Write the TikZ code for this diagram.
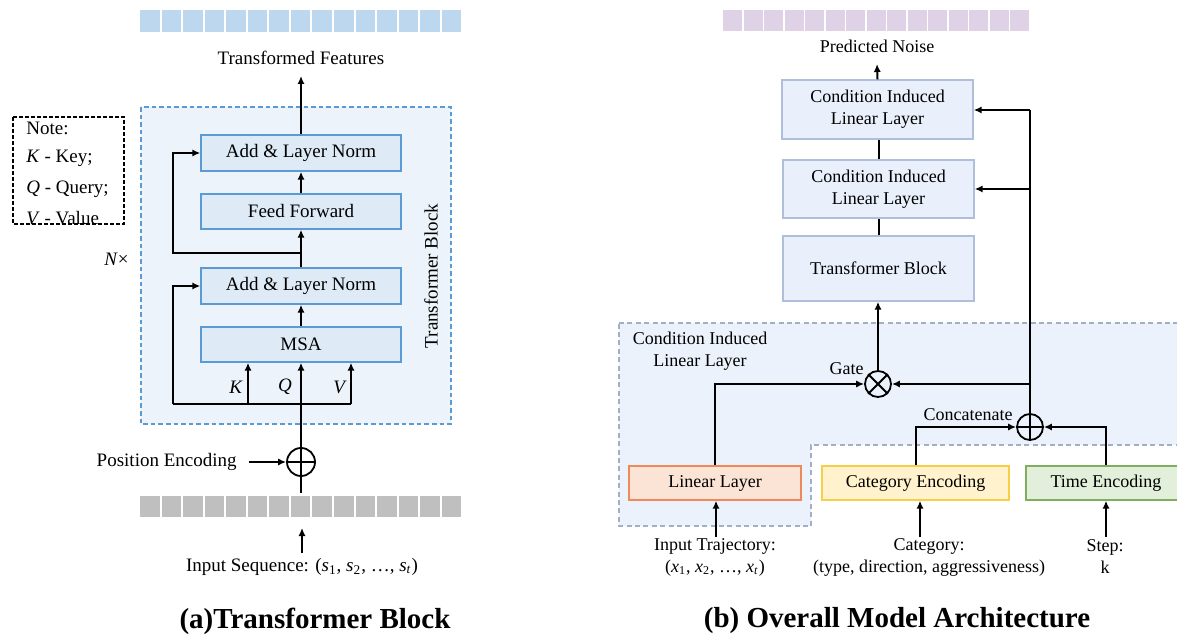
\documentclass[tikz,border=0pt]{standalone}
\usepackage{fontspec}
\setmainfont{Liberation Serif}
\usetikzlibrary{arrows.meta,calc}
\definecolor{sqblue}{HTML}{BDD7EE}
\definecolor{sqgray}{HTML}{BFBFBF}
\definecolor{sqpurple}{HTML}{DFD2E7}
\definecolor{tbfill}{HTML}{EDF3FA}
\definecolor{tbdash}{HTML}{5B9BD5}
\definecolor{boxfill}{HTML}{DEEAF6}
\definecolor{boxdraw}{HTML}{5B9BD5}
\definecolor{rboxfill}{HTML}{E9F0FB}
\definecolor{rboxdraw}{HTML}{AFBEDA}
\definecolor{regfill}{HTML}{EBF2FB}
\definecolor{regdash}{HTML}{A3AFC6}
\definecolor{llfill}{HTML}{FBE3D5}
\definecolor{lldraw}{HTML}{EE8A5A}
\definecolor{catfill}{HTML}{FFF2CC}
\definecolor{catdraw}{HTML}{F7CE46}
\definecolor{timefill}{HTML}{E2EFDA}
\definecolor{timedraw}{HTML}{7EAE5E}
\newcommand\myfl{\fontsize{9.5}{11}\selectfont}
\newcommand\myfr{\fontsize{9}{11}\selectfont}
\newcommand\mycap{\fontsize{14.5}{16}\selectfont\bfseries}
\newcommand\isub[2]{\textit{#1}\textsubscript{#2}}
\tikzset{
  lbox/.style={draw=boxdraw, fill=boxfill, line width=0.7pt, inner sep=0pt, font=\myfl, minimum width=100pt},
  rbox/.style={draw=rboxdraw, fill=rboxfill, line width=0.7pt, inner sep=0pt, font=\myfr, align=center, minimum width=95.5pt},
  llbox/.style={draw=lldraw, fill=llfill, line width=0.7pt, inner sep=0pt, font=\myfr, minimum height=17pt},
  catbox/.style={draw=catdraw, fill=catfill, line width=0.7pt, inner sep=0pt, font=\myfr, minimum height=17pt},
  timebox/.style={draw=timedraw, fill=timefill, line width=0.7pt, inner sep=0pt, font=\myfr, minimum height=17pt},
  ln/.style={line width=1pt, draw=black},
  arr/.style={ln, -{Latex[length=4pt,width=3.6pt]}},
  opc/.style={circle, draw=black, line width=0.9pt, inner sep=0pt, fill=none},
  ltxt/.style={font=\myfl, inner sep=0pt},
  rtxt/.style={font=\myfr, inner sep=0pt, align=center},
  captxt/.style={font=\mycap, inner sep=0pt},
}
\begin{document}
\begin{tikzpicture}[x=0.5pt,y=-0.5pt]
\useasboundingbox (0,0) rectangle (1177,640);
\clip (0,0) rectangle (1177,640);
% ---------------- (a) Transformer block ----------------
\foreach \i in {0,...,14}
  \fill[sqblue] (140+21.55*\i,10) rectangle ++(19.6,22);
\foreach \i in {0,...,14}
  \fill[sqgray] (140+21.55*\i,496) rectangle ++(19.6,21);
\draw[tbdash, fill=tbfill, line width=0.75pt, dash pattern=on 2.3pt off 1.5pt] (141,107) rectangle (451,424);
\node[ltxt] (tf) at (301,58) {Transformed Features};
\node[lbox, minimum height=18pt] (an1) at (301,153) {Add \& Layer Norm};
\node[lbox, minimum height=17.5pt] (ff) at (301,211.5) {Feed Forward};
\node[lbox, minimum height=18pt] (an2) at (301,286) {Add \& Layer Norm};
\node[lbox, minimum height=17.5pt] (msa) at (301,344.5) {MSA};
\node[ltxt, rotate=90] (tbl) at (431,276) {Transformer Block};
\node[ltxt, anchor=east] (nx) at (129,259) {\textit{N}×};
\node[opc, minimum size=14pt] (pe) at (301,462) {};
\draw[line width=0.9pt] (pe.north) -- (pe.south) (pe.west) -- (pe.east);
\node[ltxt, anchor=east] (pet) at (237,462) {Position Encoding};
\node[ltxt] (ins) at (302,567) {Input Sequence: (\isub{s}{1}, \isub{s}{2}, \ldots, \isub{s}{\textit{t}})};
\node[captxt] (capa) at (315,621) {(a)Transformer Block};
\node[ltxt] (kl) at (236,387) {\textit{K}};
\node[ltxt] (ql) at (285,387) {\textit{Q}};
\node[ltxt] (vl) at (340,387) {\textit{V}};
% note box
\node[ltxt, anchor=west] (n1) at (26,128) {Note:};
\node[ltxt, anchor=west] (n2) at (26,158) {\textit{K} - Key;};
\node[ltxt, anchor=west] (n3) at (26,189) {\textit{Q} - Query;};
\node[ltxt, anchor=west] (n4) at (26,218) {\textit{V} - Value};
\draw[black, line width=0.6pt, dash pattern=on 2pt off 1pt] (13,117) rectangle (124,224);
% connectors
\coordinate (tfe) at (301,76);
\draw[arr] (an1.north) -- (tfe);
\draw[arr] (ff.north) -- (an1.south);
\draw[arr] (an2.north) -- (ff.south);
\draw[arr] (msa.north) -- (an2.south);
\draw[arr] (pe.north) -- (msa.south);
\coordinate (peb) at (301,493);
\draw[ln] (pe.south) -- (peb);
\coordinate (j1) at (173,404);
\coordinate (j2) at (351,404);
\coordinate (jk) at (248,404);
\draw[ln] (j1) -- (j2);
\draw[arr] (j2) -- (j2 |- msa.south);
\draw[arr] (jk) -- (jk |- msa.south);
\draw[arr] (j1) |- (an2.west);
\coordinate (j3) at (301,253);
\coordinate (j4) at (173,253);
\draw[arr] (j3) -- (j4) |- (an1.west);
\coordinate (pes) at (249,462);
\draw[arr] (pes) -- (pe.west);
\coordinate (ina) at (302,553);
\coordinate (inb) at (302,528);
\draw[arr] (ina) -- (inb);
% ---------------- (b) Overall architecture ----------------
\foreach \i in {0,...,14}
  \fill[sqpurple] (723+20.5*\i,10) rectangle ++(19,21);
\draw[regdash, fill=regfill, line width=0.75pt, dash pattern=on 2.5pt off 1.7pt]
  (619,323) -- (1200,323) -- (1200,445) -- (811,445) -- (811,526) -- (619,526) -- cycle;
\node[rtxt] (pn) at (877,46) {Predicted Noise};
\node[rbox, minimum height=29.5pt] (c1) at (877.5,109.5) {Condition Induced\\Linear Layer};
\node[rbox, minimum height=29pt] (c2) at (878.5,189) {Condition Induced\\Linear Layer};
\node[rbox, minimum height=32.5pt] (tb) at (878.5,268.5) {Transformer Block};
\node[rtxt] (cil) at (700,351) {Condition Induced\\Linear Layer};
\node[opc, minimum size=13pt] (gate) at (878,384) {};
\draw[line width=0.9pt] (gate.north west) -- (gate.south east) (gate.north east) -- (gate.south west);
\node[rtxt, anchor=east] (gt) at (864,369) {Gate};
\node[opc, minimum size=13pt] (cc) at (1030,427) {};
\draw[line width=0.9pt] (cc.north) -- (cc.south) (cc.west) -- (cc.east);
\node[rtxt] (cct) at (968,415) {Concatenate};
\node[llbox, minimum width=86pt] (ll) at (715,483) {Linear Layer};
\node[catbox, minimum width=93.5pt] (cat) at (915.5,483) {Category Encoding};
\node[timebox, minimum width=80pt] (time) at (1106,483) {Time Encoding};
\node[rtxt] (it) at (715,557) {Input Trajectory:\\(\isub{x}{1}, \isub{x}{2}, \ldots, \isub{x}{\textit{t}})};
\node[rtxt] (ct) at (929,557) {Category:\\(type, direction, aggressiveness)};
\node[rtxt] (st) at (1105,557) {Step:\\k};
\node[captxt] (capb) at (897,621) {(b) Overall Model Architecture};
% connectors
\coordinate (pne) at (877,64);
\draw[arr] (c1.north) -- (pne);
\draw[ln] (c2.north) -- (c2.north |- c1.south);
\draw[ln] (tb.north) -- (c2.south);
\draw[arr] (gate.north) -- (gate.north |- tb.south);
\draw[arr] (ll.north) |- (gate.west);
\draw[arr] (cat.north) |- (cc.west);
\draw[arr] (time.north) |- (cc.east);
\coordinate (r1) at (1030,110);
\coordinate (r2) at (1030,189);
\coordinate (r3) at (1030,384);
\draw[ln] (cc.north) -- (r1);
\draw[arr] (r1) -- (r1 -| c1.east);
\draw[arr] (r2) -- (r2 -| c2.east);
\draw[arr] (r3) -- (gate.east);
\coordinate (lli) at (716,537);
\coordinate (cti) at (920,537);
\coordinate (sti) at (1106,537);
\draw[arr] (lli) -- (lli |- ll.south);
\draw[arr] (cti) -- (cti |- cat.south);
\draw[arr] (sti) -- (sti |- time.south);
\end{tikzpicture}
\end{document}
